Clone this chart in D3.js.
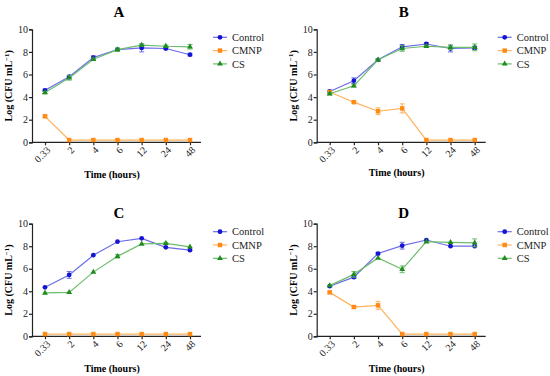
<!DOCTYPE html>
<html><head><meta charset="utf-8">
<script src="https://cdn.jsdelivr.net/npm/d3@7"></script>
<style>body{margin:0;background:#fff}svg{display:block}text{font-family:"Liberation Serif","Times New Roman",serif}</style>
</head><body><svg id="c" width="550" height="376"></svg>
<script>
const categories = ["0.33","2","4","6","12","24","48"];
const seriesNames = ["Control","CMNP","CS"];
const panelTitles = ["A","B","C","D"];
const yTicks = [0,2,4,6,8,10];

const controlA = [4.6,5.8,7.5,8.2,8.35,8.3,7.75];
const cmnpA    = [2.3,0.2,0.2,0.2,0.2,0.2,0.2];
const csA      = [4.4,5.7,7.35,8.2,8.6,8.5,8.45];
const controlErrA = [0.1,0.1,0.15,0.1,0.35,0.1,0.1];
const cmnpErrA    = [0.1,0.05,0.05,0.05,0.05,0.05,0.05];
const csErrA      = [0.1,0.2,0.1,0.15,0.1,0.1,0.2];

const controlB = [4.5,5.45,7.3,8.45,8.7,8.3,8.35];
const cmnpB    = [4.45,3.55,2.75,3.0,0.2,0.2,0.2];
const csB      = [4.3,5.0,7.3,8.3,8.5,8.4,8.4];
const controlErrB = [0.1,0.25,0.1,0.2,0.1,0.3,0.15];
const cmnpErrB    = [0.1,0.1,0.3,0.4,0.05,0.05,0.05];
const csErrB      = [0.1,0.1,0.1,0.25,0.1,0.2,0.3];

const controlC = [4.35,5.45,7.2,8.4,8.7,7.9,7.65];
const cmnpC    = [0.2,0.2,0.2,0.2,0.2,0.2,0.2];
const csC      = [3.85,3.9,5.7,7.1,8.2,8.25,7.95];
const controlErrC = [0.05,0.3,0.05,0.05,0.05,0.05,0.05];
const cmnpErrC    = [0.05,0.05,0.05,0.05,0.05,0.05,0.05];
const csErrC      = [0.05,0.05,0.05,0.15,0.05,0.1,0.05];

const controlD = [4.45,5.25,7.35,8.05,8.55,8.0,8.0];
const cmnpD    = [3.9,2.6,2.75,0.2,0.2,0.2,0.2];
const csD      = [4.5,5.5,6.95,5.95,8.4,8.35,8.3];
const controlErrD = [0.05,0.1,0.1,0.3,0.05,0.05,0.05];
const cmnpErrD    = [0.1,0.1,0.35,0.05,0.05,0.05,0.05];
const csErrD      = [0.05,0.25,0.05,0.3,0.05,0.05,0.35];

const panelValues = [[controlA,cmnpA,csA],[controlB,cmnpB,csB],[controlC,cmnpC,csC],[controlD,cmnpD,csD]];
const panelErrors = [[controlErrA,cmnpErrA,csErrA],[controlErrB,cmnpErrB,csErrB],[controlErrC,cmnpErrC,csErrC],[controlErrD,cmnpErrD,csErrD]];

const markerColors = ["#1414d2","#ff8a14","#1e8c1e"];
const lineColors = ["#6c6cec","#ffb25e","#6cbc6c"];
const markerShapes = [d3.symbolCircle, d3.symbolSquare, d3.symbolTriangle];
const markerSizes = [18, 20, 15];

const svg = d3.select("#c");
const layouts = [
  {ox:32, top:29.3, bottom:142.3, titleY:17, xlabY:180},
  {ox:316.7, top:29.3, bottom:142.3, titleY:17, xlabY:178},
  {ox:32, top:223.7, bottom:336.3, titleY:218, xlabY:374},
  {ox:316.7, top:223.7, bottom:336.3, titleY:218, xlabY:374}
];

layouts.forEach((L, pi) => {
  const g = svg.append("g");
  const x = d3.scalePoint().domain(categories).range([L.ox+13, L.ox+158]);
  const y = d3.scaleLinear().domain([0,10]).range([L.bottom, L.top]);

  const ya = g.append("g").attr("transform",`translate(${L.ox},0)`)
    .call(d3.axisLeft(y).tickValues(yTicks).tickSize(3).tickPadding(1));
  ya.select(".domain").attr("stroke","#222").attr("stroke-width",1.2);
  ya.selectAll(".tick line").attr("stroke","#222").attr("stroke-width",1.2);
  ya.selectAll("text").attr("font-size",10).attr("fill","#222").style("font-family",'"Liberation Serif",serif');

  const xa = g.append("g").attr("transform",`translate(0,${L.bottom})`)
    .call(d3.axisBottom(x).tickSize(3).tickSizeOuter(0));
  xa.select(".domain").attr("d",`M${L.ox},0H${L.ox+169}`).attr("stroke","#222").attr("stroke-width",1.2);
  xa.selectAll(".tick line").attr("stroke","#222").attr("stroke-width",1.2);
  xa.selectAll("text").attr("font-size",10).attr("fill","#222").style("font-family",'"Liberation Serif",serif')
    .attr("text-anchor","end").attr("transform","translate(3,6) rotate(-45)").attr("dy","0.35em").attr("y",0).attr("x",0);

  g.append("text").attr("x",L.ox+87).attr("y",L.titleY).attr("text-anchor","middle")
    .attr("font-size",15).attr("font-weight","bold").text(panelTitles[pi]);
  g.append("text").attr("x",L.ox+80).attr("y",L.xlabY - 2).attr("text-anchor","middle")
    .attr("font-size",10).attr("font-weight","bold").text("Time (hours)");
  const yl = g.append("text").attr("transform",`translate(${L.ox-20},${(L.top+L.bottom)/2}) rotate(-90)`)
    .attr("text-anchor","middle").attr("font-size",10).attr("font-weight","bold");
  yl.append("tspan").text("Log (CFU mL");
  yl.append("tspan").attr("dy",-3.5).attr("font-size",7).text("−1");
  yl.append("tspan").attr("dy",3.5).text(")");

  const line = d3.line().x((d,i)=>x(categories[i])).y(d=>y(d));
  panelValues[pi].forEach((vals, si) => {
    const errs = panelErrors[pi][si];
    g.append("path").datum(vals).attr("d",line).attr("fill","none")
      .attr("stroke",lineColors[si]).attr("stroke-width",1.2);
    const eb = g.append("g");
    vals.forEach((v,i) => {
      const cx = x(categories[i]);
      const e = errs[i];
      if (e >= 0.1) {
        eb.append("path").attr("d",`M${cx},${y(v-e)}V${y(v+e)}M${cx-2.5},${y(v-e)}H${cx+2.5}M${cx-2.5},${y(v+e)}H${cx+2.5}`)
          .attr("stroke",lineColors[si]).attr("stroke-width",1).attr("fill","none");
      }
    });
    g.selectAll(null).data(vals).enter().append("path")
      .attr("transform",(d,i)=>`translate(${x(categories[i])},${y(d)})`)
      .attr("d",d3.symbol().type(markerShapes[si]).size(markerSizes[si]))
      .attr("fill",markerColors[si]);
  });

  const lgx = L.ox + 181, lgy = L.top + 8;
  seriesNames.forEach((name, si) => {
    const yy = lgy + si*13.3;
    g.append("line").attr("x1",lgx).attr("x2",lgx+14).attr("y1",yy).attr("y2",yy)
      .attr("stroke",lineColors[si]).attr("stroke-width",1.2);
    g.append("path").attr("transform",`translate(${lgx+7},${yy})`)
      .attr("d",d3.symbol().type(markerShapes[si]).size(markerSizes[si])).attr("fill",markerColors[si]);
    g.append("text").attr("x",lgx+19).attr("y",yy).attr("dy","0.35em")
      .attr("font-size",10.5).attr("fill","#222").style("font-family",'"Liberation Serif",serif').text(name);
  });
});
</script></body></html>
